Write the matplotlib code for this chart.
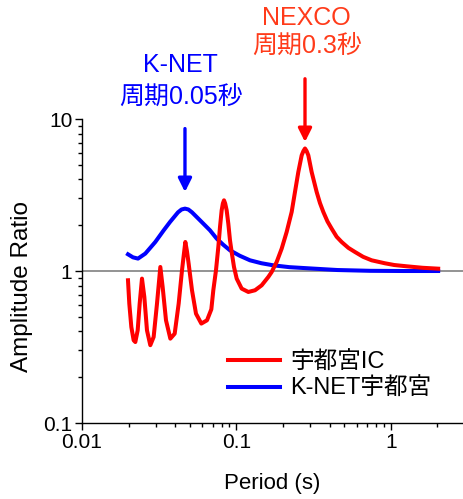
import matplotlib
matplotlib.use("Agg")
import matplotlib.pyplot as plt

plt.rcParams['font.family'] = ['Liberation Sans', 'Noto Sans CJK JP']

# amplification spectra
ic_period = [0.01985, 0.02024, 0.02086, 0.0216, 0.02214, 0.02293, 0.02362, 0.02445,
             0.02532, 0.02634, 0.02768, 0.02909, 0.03058, 0.03214, 0.03327, 0.03497,
             0.03731, 0.0398, 0.04224, 0.04439, 0.0456, 0.04665, 0.0478, 0.04901,
             0.05152, 0.05469, 0.05921, 0.06444, 0.06873, 0.07079, 0.07367, 0.07628,
             0.07821, 0.08017, 0.0816, 0.08301, 0.0845, 0.08638, 0.08853, 0.09077,
             0.09305, 0.09634, 0.1003, 0.108, 0.1193, 0.1318, 0.1455, 0.1607,
             0.1689, 0.182, 0.1961, 0.2112, 0.2276, 0.2391, 0.2513, 0.2642,
             0.271, 0.2776, 0.2845, 0.2917, 0.3065, 0.3303, 0.347, 0.3648,
             0.388, 0.413, 0.445, 0.4794, 0.53, 0.5848, 0.66, 0.7498,
             0.914, 1.05, 1.262, 1.6, 2.02]
ic_ratio = [0.869, 0.610, 0.428, 0.350, 0.341, 0.407, 0.610, 0.891,
            0.675, 0.407, 0.325, 0.368, 0.610, 1.063, 0.785, 0.474,
            0.359, 0.387, 0.610, 1.011, 1.28, 1.552, 1.35, 1.118,
            0.747, 0.524, 0.451, 0.474, 0.560, 0.747, 1.011, 1.439,
            1.949, 2.507, 2.78, 2.918, 2.78, 2.507, 2.049, 1.592,
            1.334, 1.063, 0.891, 0.766, 0.728, 0.747, 0.805, 0.914,
            0.985, 1.147, 1.403, 1.806, 2.446, 3.311, 4.482, 5.77,
            6.15, 6.40, 6.15, 5.77, 4.482, 3.311, 2.80, 2.446,
            2.12, 1.90, 1.68, 1.552, 1.42, 1.334, 1.24, 1.176,
            1.124, 1.095, 1.074, 1.05, 1.036]

knet_period = [0.01985, 0.02138, 0.02304, 0.02569, 0.02981, 0.03379, 0.03712, 0.04182,
               0.0441, 0.04642, 0.0488, 0.05152, 0.05805, 0.06738, 0.07443, 0.082,
               0.09077, 0.105, 0.1223, 0.145, 0.173, 0.22, 0.3142, 0.45,
               0.7311, 1.2, 2.02]
knet_ratio = [1.288, 1.23, 1.207, 1.302, 1.552, 1.852, 2.101, 2.433,
              2.54, 2.573, 2.54, 2.433, 2.156, 1.852, 1.634, 1.49,
              1.368, 1.26, 1.176, 1.125, 1.09, 1.06, 1.037, 1.015,
              1.003, 1.0, 1.0]

knet_peak = 0.0464
nexco_peak = 0.2776

fig = plt.figure(figsize=(4.63, 4.99), dpi=100)
ax = fig.add_axes([0.1771, 0.1523, 0.8229, 0.6092])

ax.axhline(1.0, color='#808080', lw=1.2, zorder=1)
ax.plot(ic_period, ic_ratio, color='#ff0000', lw=2.9, label='宇都宮IC', zorder=3)
ax.plot(knet_period, knet_ratio, color='#0000ff', lw=2.9, label='K-NET宇都宮', zorder=2)

ax.set_xscale('log')
ax.set_yscale('log')
ax.set_xlim(0.01, 2.925)
ax.set_ylim(0.1, 10)
ax.set_xticks([0.01, 0.1, 1])
ax.set_xticklabels(['0.01', '0.1', '1'])
ax.set_yticks([0.1, 1, 10])
ax.set_yticklabels(['0.1', '1', '10'])

for s in ['top', 'right']:
    ax.spines[s].set_visible(False)
for s in ['left', 'bottom']:
    ax.spines[s].set_linewidth(1.0)

ax.tick_params(which='major', direction='out', length=5, width=1, labelsize=15, pad=2)
ax.tick_params(which='minor', direction='out', length=3, width=1)

ax.set_xlabel('Period (s)', fontsize=16)
ax.set_ylabel('Amplitude Ratio', fontsize=17.5)
ax.yaxis.set_label_coords(-0.129, 0.448)
ax.xaxis.set_label_coords(0.5, -0.164)

# arrows and notes
ax.annotate('', xy=(knet_peak, 3.31), xytext=(knet_peak, 8.65), annotation_clip=False,
            arrowprops=dict(arrowstyle='-|>,head_length=0.4,head_width=0.2', color='#0000ff',
                            lw=2.4, mutation_scale=20, shrinkA=0, shrinkB=0))
ax.annotate('', xy=(nexco_peak, 7.06), xytext=(nexco_peak, 18.4), annotation_clip=False,
            arrowprops=dict(arrowstyle='-|>,head_length=0.4,head_width=0.2', color='#ff0000',
                            lw=2.4, mutation_scale=20, shrinkA=0, shrinkB=0))

ax.text(0.0436, 22.6, 'K-NET', color='#0000ff', fontsize=18, ha='center', va='center', clip_on=False)
ax.text(0.0436, 14.1, '周期0.05秒', color='#0000ff', fontsize=18, ha='center', va='center', clip_on=False)
ax.text(0.285, 46.3, 'NEXCO', color='#ff3b1a', fontsize=18, ha='center', va='center', clip_on=False)
ax.text(0.285, 30.2, '周期0.3秒', color='#ff3b1a', fontsize=18, ha='center', va='center', clip_on=False)

ax.legend(loc='center left', bbox_to_anchor=(0.383, 0.155), frameon=False, fontsize=17,
          handlelength=2.2, handletextpad=0.42, labelspacing=0.2, borderpad=0, borderaxespad=0)

fig.savefig('out.png', dpi=100)
